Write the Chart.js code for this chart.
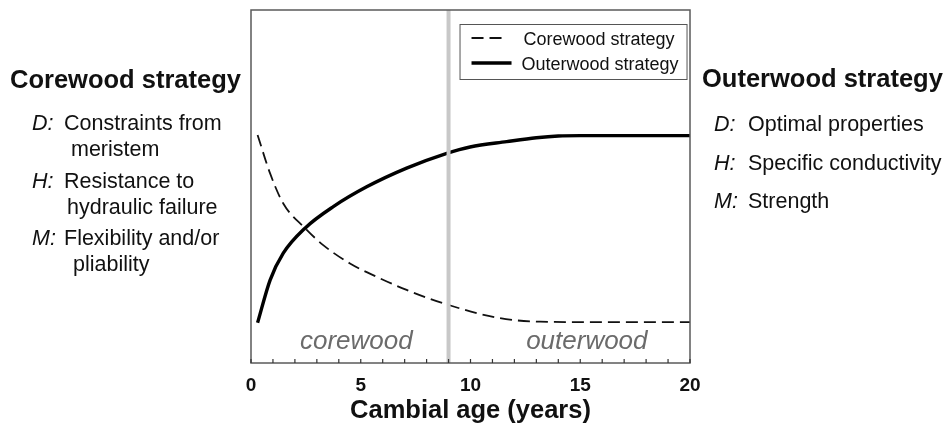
<!DOCTYPE html>
<html>
<head>
<meta charset="utf-8">
<script src="https://cdn.jsdelivr.net/npm/chart.js@4/dist/chart.umd.min.js"></script>
<style>
  html, body { margin: 0; padding: 0; background: #fff; }
  #wrap { width: 947px; height: 430px; position: relative; }
</style>
</head>
<body>
<div id="wrap"><canvas id="c" width="947" height="430"></canvas></div>
<script>
// ---- data ----
const coreAge = [0.3, 0.87, 1.47, 2.46, 3.29, 4.51, 5.73, 7.09, 8.76, 11.34, 13.17, 15.0, 20];
const coreValue = [64.6, 53.7, 45.2, 38.2, 33.4, 28.2, 24.4, 20.7, 16.9, 12.7, 11.7, 11.6, 11.6];
const outerAge = [0.3, 0.87, 1.47, 2.46, 3.75, 5.27, 7.09, 8.92, 9.98, 11.65, 13.0, 14.0, 15.0, 20];
const outerValue = [11.4, 23.5, 31.1, 38.2, 44.3, 49.9, 55.2, 59.4, 61.2, 62.7, 63.8, 64.3, 64.4, 64.4];
const xTickLabels = [0, 5, 10, 15, 20];
const boundaryAge = 9;
const seriesLabels = ['Corewood strategy', 'Outerwood strategy'];
const zoneLabels = ['corewood', 'outerwood'];
const zoneCenters = [4.8, 15.3];
const leftTitle = 'Corewood strategy';
const leftItems = [
  ['D:', ['Constraints from', 'meristem']],
  ['H:', ['Resistance to', 'hydraulic failure']],
  ['M:', ['Flexibility and/or', 'pliability']]
];
const rightTitle = 'Outerwood strategy';
const rightItems = [
  ['D:', ['Optimal properties']],
  ['H:', ['Specific conductivity']],
  ['M:', ['Strength']]
];

const FONT = '"Liberation Sans", Arial, Helvetica, sans-serif';
const toXY = (xs, ys) => xs.map((x, i) => ({ x, y: ys[i] }));

const decor = {
  id: 'decor',
  afterDatasetsDraw(chart) {
    const { ctx, chartArea: a, scales: { x } } = chart;
    ctx.save();
    // boundary line
    const bx = x.getPixelForValue(boundaryAge);
    ctx.strokeStyle = '#c8c8c8';
    ctx.lineWidth = 4;
    ctx.beginPath(); ctx.moveTo(bx, a.top); ctx.lineTo(bx, a.bottom); ctx.stroke();
    // frame
    ctx.strokeStyle = '#5a5a5a';
    ctx.lineWidth = 1.5;
    ctx.strokeRect(a.left, a.top, a.right - a.left, a.bottom - a.top);
    // inward minor ticks
    ctx.lineWidth = 1.2;
    ctx.strokeStyle = '#333';
    for (let v = x.min; v <= x.max; v += 1) {
      const px = x.getPixelForValue(v);
      ctx.beginPath(); ctx.moveTo(px, a.bottom); ctx.lineTo(px, a.bottom - 4); ctx.stroke();
    }
    // zone labels
    ctx.fillStyle = '#6b6b6b';
    ctx.font = 'italic 26px ' + FONT;
    ctx.textAlign = 'center';
    ctx.textBaseline = 'alphabetic';
    zoneLabels.forEach((t, i) => ctx.fillText(t, x.getPixelForValue(zoneCenters[i]), a.bottom - 14));
    // legend
    const lx = x.getPixelForValue(9.5), ly = a.top + 14;
    ctx.fillStyle = '#fff';
    ctx.fillRect(lx, ly, 228, 56);
    ctx.strokeStyle = '#555'; ctx.lineWidth = 1;
    ctx.strokeRect(lx + 0.5, ly + 0.5, 227, 55);
    chart.data.datasets.forEach((ds, i) => {
      const yy = ly + 14 + i * 25;
      ctx.strokeStyle = ds.borderColor;
      ctx.lineWidth = ds.borderWidth;
      ctx.setLineDash(ds.borderDash || []);
      ctx.beginPath(); ctx.moveTo(lx + 12, yy); ctx.lineTo(lx + (i ? 52 : 48), yy); ctx.stroke();
      ctx.setLineDash([]);
      ctx.fillStyle = '#111';
      ctx.font = '18px ' + FONT;
      ctx.textAlign = 'left';
      ctx.textBaseline = 'alphabetic';
      ctx.fillText(ds.label, lx + (i ? 62 : 64), yy + 7);
    });
    ctx.restore();
  },
  afterDraw(chart) {
    const { ctx } = chart;
    ctx.save();
    ctx.fillStyle = '#111';
    ctx.textAlign = 'left';
    ctx.textBaseline = 'alphabetic';
    const drawBlock = (title, items, tx, ty, lx, bx, starts) => {
      ctx.font = 'bold 25.5px ' + FONT;
      ctx.fillText(title, tx, ty);
      items.forEach((it, i) => {
        const y0 = starts[i];
        ctx.font = 'italic 21.5px ' + FONT;
        ctx.fillText(it[0], lx, y0);
        ctx.font = '21.5px ' + FONT;
        it[1].forEach((line, j) => {
          const xx = j === 0 ? bx : bx + (i === 2 ? 9 : (i === 0 ? 7 : 3));
          ctx.fillText(line, xx, y0 + j * 26);
        });
      });
    };
    drawBlock(leftTitle, leftItems, 10, 88, 32, 64, [130, 188, 245]);
    drawBlock(rightTitle, rightItems, 702, 87, 714, 748, [131, 170, 208]);
    ctx.restore();
  }
};

new Chart(document.getElementById('c'), {
  type: 'line',
  data: {
    datasets: [
      {
        label: seriesLabels[0],
        data: toXY(coreAge, coreValue),
        borderColor: '#111',
        borderWidth: 1.8,
        borderDash: [12, 6],
        pointRadius: 0,
        cubicInterpolationMode: 'monotone',
        fill: false
      },
      {
        label: seriesLabels[1],
        data: toXY(outerAge, outerValue),
        borderColor: '#000',
        borderWidth: 3.4,
        pointRadius: 0,
        cubicInterpolationMode: 'monotone',
        fill: false
      }
    ]
  },
  options: {
    responsive: false,
    animation: false,
    devicePixelRatio: 1,
    layout: { padding: { left: 251, right: 257, top: 10, bottom: 0 } },
    plugins: { legend: { display: false }, tooltip: { enabled: false } },
    scales: {
      x: {
        type: 'linear',
        min: 0, max: 20,
        grid: { display: false, drawTicks: false },
        border: { display: false },
        afterBuildTicks: (s) => { s.ticks = xTickLabels.map(v => ({ value: v })); },
        afterFit: (s) => { s.height = 67; },
        ticks: { color: '#111', font: { family: FONT, size: 19, weight: 'bold' }, padding: 11, maxRotation: 0 },
        title: { display: true, text: 'Cambial age (years)', color: '#111', font: { family: FONT, size: 25.5, weight: 'bold' }, padding: { top: 0, bottom: 4 } }
      },
      y: { display: false, min: 0, max: 100 }
    }
  },
  plugins: [decor]
});
</script>
</body>
</html>
